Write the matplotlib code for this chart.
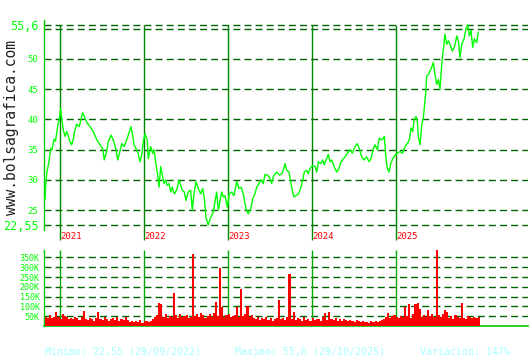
import numpy as np
import matplotlib.pyplot as plt

# precio (fecha en año decimal, cotizacion)
fechas = [2020.821, 2020.833, 2020.845, 2020.869, 2020.889, 2020.905, 2020.929, 2020.946, 2020.961, 2020.976,
          2020.988, 2021.008, 2021.020, 2021.039, 2021.060, 2021.080, 2021.095, 2021.119, 2021.139, 2021.158,
          2021.179, 2021.199, 2021.230, 2021.258, 2021.270, 2021.298, 2021.325, 2021.357, 2021.396, 2021.437,
          2021.476, 2021.508, 2021.527, 2021.556, 2021.575, 2021.607, 2021.635, 2021.667, 2021.687, 2021.714,
          2021.735, 2021.762, 2021.786, 2021.813, 2021.845, 2021.865, 2021.881, 2021.913, 2021.932, 2021.952,
          2021.973, 2021.992, 2022.012, 2022.039, 2022.051, 2022.080, 2022.104, 2022.119, 2022.143, 2022.163,
          2022.179, 2022.199, 2022.218, 2022.238, 2022.258, 2022.277, 2022.298, 2022.318, 2022.337, 2022.361,
          2022.389, 2022.417, 2022.437, 2022.456, 2022.480, 2022.500, 2022.527, 2022.556, 2022.575, 2022.595,
          2022.619, 2022.646, 2022.675, 2022.699, 2022.718, 2022.738, 2022.754, 2022.765, 2022.786, 2022.806,
          2022.825, 2022.845, 2022.865, 2022.885, 2022.905, 2022.925, 2022.944, 2022.964, 2022.992, 2023.015,
          2023.044, 2023.071, 2023.104, 2023.131, 2023.155, 2023.182, 2023.202, 2023.220, 2023.242, 2023.270,
          2023.294, 2023.321, 2023.342, 2023.369, 2023.393, 2023.420, 2023.440, 2023.468, 2023.492, 2023.520,
          2023.539, 2023.560, 2023.580, 2023.611, 2023.639, 2023.658, 2023.679, 2023.699, 2023.726, 2023.746,
          2023.765, 2023.786, 2023.810, 2023.837, 2023.865, 2023.889, 2023.908, 2023.937, 2023.956, 2023.976,
          2024.008, 2024.036, 2024.056, 2024.075, 2024.104, 2024.127, 2024.146, 2024.167, 2024.194, 2024.214,
          2024.235, 2024.262, 2024.294, 2024.321, 2024.345, 2024.373, 2024.393, 2024.420, 2024.452, 2024.480,
          2024.512, 2024.539, 2024.563, 2024.592, 2024.619, 2024.651, 2024.679, 2024.702, 2024.730, 2024.750,
          2024.777, 2024.801, 2024.830, 2024.861, 2024.877, 2024.896, 2024.917, 2024.937, 2024.961, 2024.988,
          2025.015, 2025.048, 2025.075, 2025.107, 2025.135, 2025.158, 2025.179, 2025.199, 2025.214, 2025.238,
          2025.254, 2025.265, 2025.286, 2025.306, 2025.325, 2025.337, 2025.354, 2025.365, 2025.385, 2025.405,
          2025.425, 2025.444, 2025.464, 2025.485, 2025.504, 2025.524, 2025.544, 2025.563, 2025.583, 2025.604,
          2025.623, 2025.643, 2025.670, 2025.694, 2025.723, 2025.742, 2025.762, 2025.782, 2025.810, 2025.833,
          2025.854, 2025.873, 2025.893, 2025.913, 2025.932, 2025.960, 2025.979]
precio = [26.8, 29.7, 31.3, 33.0, 35.2, 35.0, 36.7, 36.4, 37.7, 39.2,
          39.7, 41.8, 40.2, 38.3, 37.2, 38.0, 37.5, 36.3, 35.8, 36.7,
          38.3, 39.2, 38.8, 40.5, 41.1, 40.2, 39.4, 38.8, 38.0, 36.7,
          35.8, 35.2, 33.3, 34.7, 36.3, 37.4, 36.6, 35.0, 33.3, 34.7,
          36.0, 35.5, 36.3, 37.4, 38.8, 37.5, 35.8, 35.0, 34.4, 33.0,
          34.1, 36.3, 37.6, 36.6, 33.5, 35.5, 34.4, 35.0, 32.5, 30.8,
          28.8, 32.2, 30.8, 29.4, 30.0, 29.1, 29.4, 28.0, 28.8, 27.7,
          28.3, 30.0, 29.1, 28.3, 28.0, 26.6, 28.0, 28.3, 25.0, 27.7,
          29.7, 28.6, 27.7, 28.6, 26.9, 23.8, 23.0, 22.55, 23.6, 24.1,
          24.7, 26.3, 28.0, 25.0, 26.6, 28.0, 27.2, 27.4, 25.5, 27.7,
          28.0, 27.4, 29.7, 28.6, 28.8, 27.7, 26.1, 25.0, 24.4, 25.2,
          26.9, 27.7, 28.8, 29.4, 30.0, 29.4, 30.9, 30.8, 30.5, 29.4,
          30.5, 31.0, 31.3, 30.8, 31.0, 31.6, 32.7, 31.6, 31.3, 29.7,
          28.3, 27.2, 27.4, 27.7, 28.6, 30.0, 31.3, 31.6, 31.0, 31.9,
          32.4, 32.2, 31.3, 33.0, 32.7, 33.3, 32.5, 33.3, 34.2, 33.0,
          33.3, 32.2, 31.3, 31.9, 33.0, 33.5, 33.8, 34.4, 35.0, 34.4,
          35.5, 36.0, 35.2, 33.8, 33.3, 33.8, 33.0, 33.5, 35.2, 35.8,
          35.0, 36.9, 36.6, 37.2, 34.1, 31.9, 31.3, 32.7, 33.5, 34.1,
          34.4, 34.7, 34.4, 35.5, 36.0, 36.6, 38.6, 38.0, 39.9, 40.5,
          39.7, 37.2, 35.8, 39.1, 40.2, 41.9, 44.4, 47.2, 47.4, 48.0,
          48.6, 49.4, 47.4, 45.8, 46.6, 45.0, 49.1, 51.6, 54.1, 52.4,
          53.0, 52.4, 51.3, 51.9, 53.8, 53.0, 50.2, 52.4, 53.3, 55.0,
          55.6, 53.8, 54.7, 51.9, 53.3, 52.7, 54.4]

# volumen en miles, un valor cada 0.025 años desde 2020.82
vol_inicio = 2020.82
vol_paso = 0.025
volumen = [48, 42, 55, 40, 46, 72, 44, 38, 60, 52,
           45, 38, 42, 35, 48, 40, 32, 44, 75, 38,
           30, 42, 36, 28, 40, 71, 35, 30, 45, 38,
           26, 34, 40, 30, 45, 28, 36, 32, 48, 30,
           22, 28, 18, 25, 20, 30, 16, 24, 28, 20,
           26, 35, 48, 55, 118, 111, 45, 60, 42, 52,
           48, 169, 55, 40, 62, 45, 50, 58, 42, 48,
           367, 50, 62, 45, 68, 55, 42, 50, 60, 48,
           65, 120, 52, 297, 96, 48, 58, 62, 45, 50,
           55, 95, 48, 188, 52, 60, 104, 45, 55, 40,
           38, 45, 30, 42, 35, 48, 32, 40, 28, 36,
           42, 132, 35, 40, 30, 45, 265, 38, 71, 32,
           40, 35, 28, 44, 32, 38, 26, 42, 30, 35,
           38, 28, 45, 68, 32, 71, 36, 30, 40, 28,
           34, 25, 38, 30, 24, 32, 28, 22, 30, 26,
           20, 25, 18, 22, 16, 24, 20, 28, 18, 25,
           32, 38, 45, 65, 42, 50, 55, 48, 40, 52,
           45, 98, 50, 111, 42, 60, 111, 115, 86, 48,
           55, 45, 84, 50, 62, 48, 387, 55, 45, 60,
           84, 72, 42, 50, 38, 55, 45, 40, 118, 42,
           38, 50, 45, 42, 48, 40, 45]

anios = [2021, 2022, 2023, 2024, 2025]
niveles = [22.55, 25, 30, 35, 40, 45, 50, 55.6]
etiquetas = ["22,55", "25", "30", "35", "40", "45", "50", "55,6"]
vol_niveles = [50, 100, 150, 200, 250, 300, 350]

verde = "#00ff00"
verde_eje = "#00cc00"
verde_grid = "#006400"
verde_anio = "#008800"
mono = "DejaVu Sans Mono"

fig = plt.figure(figsize=(5.3, 3.6), dpi=100)
fig.patch.set_facecolor("white")

xmin, xmax = 2020.810, 2026.571

# ---- grafico de precio ----
ax = fig.add_axes([44/530, 130/360, 484/530, 210/360])
escala = (225 - 25) / (55.6 - 22.55)
ax.set_ylim(22.55 - 5/escala, 55.6 + 5/escala)
ax.set_xlim(xmin, xmax)

for n in niveles + [54.95]:
    ax.axhline(n, color=verde_grid, lw=1.0, ls=(0, (5, 3)), zorder=1)

ax.vlines(anios, 22.55 - 15/escala, 55.6, color=verde_anio, lw=1.0, clip_on=False, zorder=2)
for a in anios:
    ax.text(a + 0.005, -0.033, str(a), transform=ax.get_xaxis_transform(),
            color="red", fontsize=6.5, family=mono, ha="left", va="center")

ax.plot(fechas, precio, color=verde, lw=1.0, zorder=3)

ax.set_yticks(niveles)
ax.set_yticklabels(etiquetas, family=mono, color=verde)
for lab, n in zip(ax.get_yticklabels(), niveles):
    lab.set_fontsize(8.5 if n in (22.55, 55.6) else 6.5)
ax.tick_params(axis="y", length=0, pad=4)
ax.set_xticks([])
for s in ["top", "right", "bottom"]:
    ax.spines[s].set_visible(False)
ax.spines["left"].set_color(verde_eje)
ax.spines["left"].set_linewidth(1.0)
ax.patch.set_alpha(0)

# ---- grafico de volumen ----
ax2 = fig.add_axes([44/530, 34/360, 484/530, 76/360])
vol_fechas = vol_inicio + vol_paso * np.arange(len(volumen))
ax2.bar(vol_fechas, volumen, width=vol_paso, align="edge", color="red", lw=0, zorder=3)
for n in vol_niveles:
    ax2.axhline(n, color=verde_grid, lw=1.0, ls=(0, (5, 3)), zorder=1)
ax2.vlines(anios, 0, 388, color="#00aa00", lw=1.0, zorder=2)
ax2.set_xlim(xmin, xmax)
ax2.set_ylim(0, 388)
ax2.set_yticks(vol_niveles)
ax2.set_yticklabels([f"{n}K" for n in vol_niveles], family=mono, color=verde, fontsize=6)
ax2.tick_params(axis="y", length=0, pad=3)
ax2.set_xticks([])
for s in ["top", "right"]:
    ax2.spines[s].set_visible(False)
ax2.spines["left"].set_color(verde_eje)
ax2.spines["bottom"].set_color(verde_eje)
ax2.spines["left"].set_linewidth(1.0)
ax2.spines["bottom"].set_linewidth(1.2)

# textos
fig.text(12/530, 1 - 127/360, "www.bolsagrafica.com", rotation=90, family=mono,
         fontsize=10.5, color="#222222", ha="center", va="center")
pie = "#a8ffff"
fig.text(45/530, 1 - 352/360, "Minimo: 22,55 (29/09/2022)", family=mono, fontsize=7.2, color=pie, va="center")
fig.text(235/530, 1 - 352/360, "Maximo: 55,6 (29/10/2025)", family=mono, fontsize=7.2, color=pie, va="center")
fig.text(420/530, 1 - 352/360, "Variación: 147%", family=mono, fontsize=7.2, color=pie, va="center")

fig.savefig("out.png", dpi=100)
